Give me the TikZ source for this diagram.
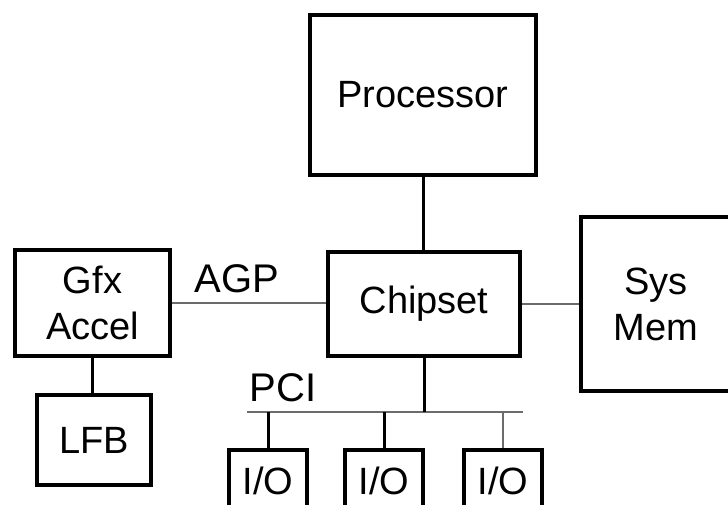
\documentclass[tikz,border=0pt]{standalone}
\usepackage{fontspec}
\setmainfont{Liberation Sans}
\usetikzlibrary{positioning, calc}
\definecolor{cline}{HTML}{000000}
\definecolor{cthin}{HTML}{6B6B6B}
\tikzset{
  every picture/.style={font=\fontsize{38}{46}\selectfont, line width=3pt},
  box/.style={draw=cline, line width=4pt, align=center, inner sep=0pt},
  link/.style={draw=cline, line width=3pt},
  thin/.style={draw=cthin, line width=2pt},
  buslabel/.style={font=\fontsize{40}{46}\selectfont, inner sep=0pt},
}

\begin{document}
\begin{tikzpicture}[x=1pt, y=-1pt]
  \useasboundingbox (0,0) rectangle (728,505);
  \node[box, minimum width=226pt, minimum height=160pt] (proc) at (423,95) {Processor};
  \node[box, minimum width=192pt, minimum height=104pt] (chip) at (424,304) {Chipset};
  \node[box, minimum width=151pt, minimum height=174pt] (mem) at (656,304) {Sys\\Mem};
  \node[box, minimum width=155pt, minimum height=106pt] (gfx) at (92.5,303) {Gfx\\Accel};
  \node[box, minimum width=114pt, minimum height=90pt] (lfb) at (94,440) {LFB};
  \foreach \i/\x in {1/268,2/384,3/503}
    \node[box, minimum width=78pt, minimum height=62pt] (io\i) at (\x,481) {I/O};
  \coordinate (busL) at (247,412);
  \coordinate (busR) at (523,412);
  \node[buslabel] (agp) at (237,279) {AGP};
  \node[buslabel] (pci) at (283,388) {PCI};
  \draw[link] (proc.south) -- (proc.south |- chip.north);
  \draw[thin] (gfx.east) -- (gfx.east -| chip.west);
  \draw[thin] (chip.east) -- (mem.west);
  \draw[link] (gfx.south) -- (gfx.south |- lfb.north);
  \draw[thin] (busL) -- (busR);
  \draw[link] (chip.south) -- (chip.south |- busL);
  \draw[link] (io1.north) -- (io1.north |- busL);
  \draw[link] (io2.north) -- (io2.north |- busL);
  \draw[thin] (io3.north) -- (io3.north |- busL);
\end{tikzpicture}
\end{document}
